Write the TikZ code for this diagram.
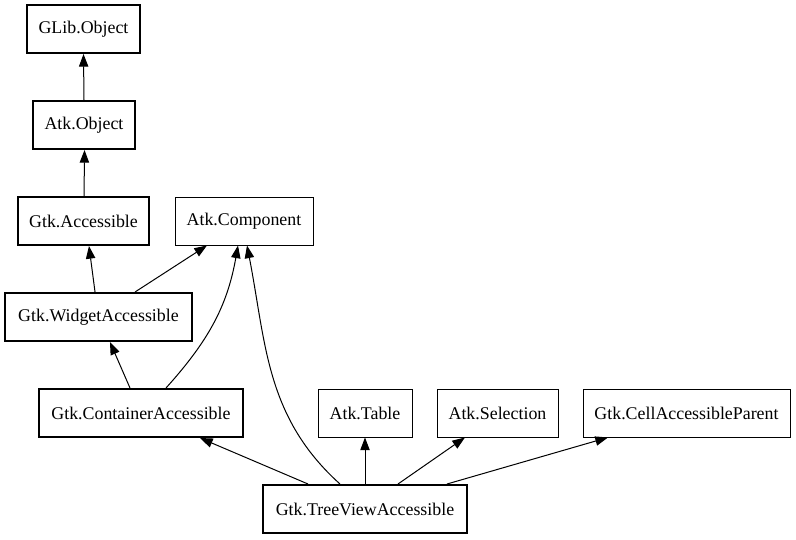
\documentclass[tikz,border=0pt]{standalone}
\usepackage{fontspec}
\setmainfont{Liberation Serif}
\usetikzlibrary{arrows.meta}

\begin{document}
\begin{tikzpicture}[x=0.75pt,y=-0.75pt,
    cls/.style={draw,line width=1.5pt,minimum height=36pt,inner sep=0pt,font=\fontsize{13.4}{16}\selectfont},
    iface/.style={draw,line width=0.7pt,minimum height=36pt,inner sep=0pt,font=\fontsize{13.4}{16}\selectfont},
    inh/.style={line width=0.75pt,-{Triangle[length=9.5pt,width=7pt]}}]
          \useasboundingbox (0,0) rectangle (796,539);
          % classes
          \node[cls,minimum width=84.75pt] (glib) at (83.5,29) {GLib.Object};
          \node[cls,minimum width=76.5pt] (atkobj) at (84,125) {Atk.Object};
          \node[cls,minimum width=98.25pt] (gtkacc) at (83.5,221) {Gtk.Accessible};
          \node[cls,minimum width=140.25pt] (widget) at (98.5,317) {Gtk.WidgetAccessible};
          \node[cls,minimum width=153pt] (container) at (141,413) {Gtk.ContainerAccessible};
          \node[cls,minimum width=153pt] (treeview) at (365,509) {Gtk.TreeViewAccessible};
          % interfaces
          \node[iface,minimum width=103.5pt] (atkcomp) at (244,221) {Atk.Component};
          \node[iface,minimum width=70.5pt] (atktable) at (365,413) {Atk.Table};
          \node[iface,minimum width=90.75pt] (atksel) at (497.5,413) {Atk.Selection};
          \node[iface,minimum width=155.25pt] (cellparent) at (686.5,413) {Gtk.CellAccessibleParent};
          % edges
          \draw[inh] (atkobj.north) -- (glib.south);
          \draw[inh] ([xshift=0.4pt]gtkacc.north) -- ([xshift=0.4pt]atkobj.south);
          \draw[inh] ([xshift=-2.6pt]widget.north) -- ([xshift=4.1pt]gtkacc.south);
          \draw[inh] ([xshift=27.4pt]widget.north) -- ([xshift=-27.75pt]atkcomp.south);
          \draw[inh] ([xshift=-8.25pt]container.north) -- ([xshift=8.6pt]widget.south);
          \draw[inh] ([xshift=18.75pt]container.north) to[out=48,in=-100] ([xshift=-4.5pt]atkcomp.south);
          \draw[inh] ([xshift=-18.75pt]treeview.north) to[out=138,in=-79] ([xshift=2.25pt]atkcomp.south);
          \draw[inh] ([xshift=-42.75pt]treeview.north) -- ([xshift=44.25pt]container.south);
          \draw[inh] (treeview.north) -- (atktable.south);
          \draw[inh] ([xshift=24.75pt]treeview.north) -- ([xshift=-24.4pt]atksel.south);
          \draw[inh] ([xshift=61.5pt]treeview.north) -- ([xshift=-58.9pt]cellparent.south);
\end{tikzpicture}
\end{document}
